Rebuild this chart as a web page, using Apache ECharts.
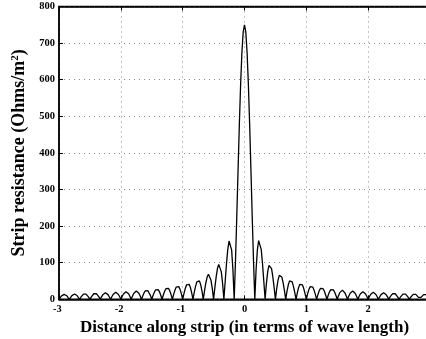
<!DOCTYPE html>
<html>
<head>
<meta charset="utf-8">
<script src="https://cdn.jsdelivr.net/npm/echarts@6/dist/echarts.min.js"></script>
<style>html,body{margin:0;padding:0;background:#fff}#c{width:426px;height:339px}</style>
</head>
<body>
<div id="c"></div>
<script>
// Distance along strip (wave lengths)
const distance = [-3,
-2.9792,-2.9583,-2.9375,-2.9167,-2.8958,-2.875,-2.8542,-2.8333,
-2.8125,-2.7917,-2.7708,-2.75,-2.7292,-2.7083,-2.6875,-2.6667,
-2.6458,-2.625,-2.6042,-2.5833,-2.5625,-2.5417,-2.5208,-2.5,
-2.4792,-2.4583,-2.4375,-2.4167,-2.3958,-2.375,-2.3542,-2.3333,
-2.3125,-2.2917,-2.2708,-2.25,-2.2292,-2.2083,-2.1875,-2.1667,
-2.1458,-2.125,-2.1042,-2.0833,-2.0625,-2.0417,-2.0208,-2,
-1.9792,-1.9583,-1.9375,-1.9167,-1.8958,-1.875,-1.8542,-1.8333,
-1.8125,-1.7917,-1.7708,-1.75,-1.7292,-1.7083,-1.6875,-1.6667,
-1.6458,-1.625,-1.6042,-1.5833,-1.5625,-1.5417,-1.5208,-1.5,
-1.4792,-1.4583,-1.4375,-1.4167,-1.3958,-1.375,-1.3542,-1.3333,
-1.3125,-1.2917,-1.2708,-1.25,-1.2292,-1.2083,-1.1875,-1.1667,
-1.1458,-1.125,-1.1042,-1.0833,-1.0625,-1.0417,-1.0208,-1,
-0.9792,-0.9583,-0.9375,-0.9167,-0.8958,-0.875,-0.8542,-0.8333,
-0.8125,-0.7917,-0.7708,-0.75,-0.7292,-0.7083,-0.6875,-0.6667,
-0.6458,-0.625,-0.6042,-0.5833,-0.5625,-0.5417,-0.5208,-0.5,
-0.4792,-0.4583,-0.4375,-0.4167,-0.3958,-0.375,-0.3542,-0.3333,
-0.3125,-0.2917,-0.2708,-0.25,-0.2292,-0.2083,-0.1875,-0.1667,
-0.1458,-0.125,-0.1042,-0.0833,-0.0625,-0.0417,-0.0208,0,
0.0208,0.0417,0.0625,0.0833,0.1042,0.125,0.1458,0.1667,
0.1875,0.2083,0.2292,0.25,0.2708,0.2917,0.3125,0.3333,
0.3542,0.375,0.3958,0.4167,0.4375,0.4583,0.4792,0.5,
0.5208,0.5417,0.5625,0.5833,0.6042,0.625,0.6458,0.6667,
0.6875,0.7083,0.7292,0.75,0.7708,0.7917,0.8125,0.8333,
0.8542,0.875,0.8958,0.9167,0.9375,0.9583,0.9792,1,
1.0208,1.0417,1.0625,1.0833,1.1042,1.125,1.1458,1.1667,
1.1875,1.2083,1.2292,1.25,1.2708,1.2917,1.3125,1.3333,
1.3542,1.375,1.3958,1.4167,1.4375,1.4583,1.4792,1.5,
1.5208,1.5417,1.5625,1.5833,1.6042,1.625,1.6458,1.6667,
1.6875,1.7083,1.7292,1.75,1.7708,1.7917,1.8125,1.8333,
1.8542,1.875,1.8958,1.9167,1.9375,1.9583,1.9792,2,
2.0208,2.0417,2.0625,2.0833,2.1042,2.125,2.1458,2.1667,
2.1875,2.2083,2.2292,2.25,2.2708,2.2917,2.3125,2.3333,
2.3542,2.375,2.3958,2.4167,2.4375,2.4583,2.4792,2.5,
2.5208,2.5417,2.5625,2.5833,2.6042,2.625,2.6458,2.6667,
2.6875,2.7083,2.7292,2.75,2.7708,2.7917,2.8125,2.8333,
2.8542,2.875,2.8958,2.9167,2.9375,2.9583,2.9792,3];

// Strip resistance (Ohms/m^2)
const resistance = [0,
5.1,9.5,12.5,13.6,12.7,9.8,5.3,0,
5.4,10.1,13.3,14.5,13.5,10.4,5.7,0,
5.8,10.7,14.1,15.4,14.3,11.1,6.0,0,
6.1,11.4,15.1,16.5,15.3,11.8,6.5,0,
6.6,12.3,16.2,17.7,16.5,12.7,7.0,0,
7.1,13.2,17.5,19.1,17.8,13.8,7.5,0,
7.7,14.4,19.0,20.8,19.4,15.0,8.2,0,
8.4,15.7,20.8,22.7,21.3,16.5,9.0,0,
9.3,17.3,22.9,25.1,23.5,18.3,10.0,0,
10.3,19.3,25.6,28.1,26.3,20.5,11.2,0,
11.6,21.8,28.9,31.8,29.9,23.3,12.8,0,
13.3,25.0,33.3,36.7,34.6,27.0,14.9,0,
15.6,29.4,39.2,43.4,41.0,32.2,17.8,0,
18.7,35.5,47.7,53.1,50.4,39.7,22.1,0,
23.6,45.0,60.8,68.2,65.4,51.9,29.2,0,
31.8,61.4,84.0,95.5,92.9,75.0,43.0,0,
48.7,96.5,135.7,159.2,160.4,135.0,81.2,0,
104.4,225.1,352.9,477.5,588.2,675.2,731.0,750,
731.0,675.2,588.2,477.5,352.9,225.1,104.4,0,
81.2,135.0,160.4,159.2,135.7,96.5,48.7,0,
43.0,75.0,92.9,95.5,84.0,61.4,31.8,0,
29.2,51.9,65.4,68.2,60.8,45.0,23.6,0,
22.1,39.7,50.4,53.1,47.7,35.5,18.7,0,
17.8,32.2,41.0,43.4,39.2,29.4,15.6,0,
14.9,27.0,34.6,36.7,33.3,25.0,13.3,0,
12.8,23.3,29.9,31.8,28.9,21.8,11.6,0,
11.2,20.5,26.3,28.1,25.6,19.3,10.3,0,
10.0,18.3,23.5,25.1,22.9,17.3,9.3,0,
9.0,16.5,21.3,22.7,20.8,15.7,8.4,0,
8.2,15.0,19.4,20.8,19.0,14.4,7.7,0,
7.5,13.8,17.8,19.1,17.5,13.2,7.1,0,
7.0,12.7,16.5,17.7,16.2,12.3,6.6,0,
6.5,11.8,15.3,16.5,15.1,11.4,6.1,0,
6.0,11.1,14.3,15.4,14.1,10.7,5.8,0,
5.7,10.4,13.5,14.5,13.3,10.1,5.4,0,
5.3,9.8,12.7,13.6,12.5,9.5,5.1,0];

const xTicks = [-3, -2, -1, 0, 1, 2, 3];
const yTicks = [0, 100, 200, 300, 400, 500, 600, 700, 800];

const xTitle = 'Distance along strip (in terms of wave length)';
const yTitle = 'Strip resistance (Ohms/m{s|2})';

const FONT = 'Liberation Serif';
const points = distance.map((d, i) => [d, resistance[i]]);

const chart = echarts.init(document.getElementById('c'), null, {renderer: 'canvas'});
const dotted = {show: true, lineStyle: {color: '#888', width: 1, type: [1, 4]}};
const labelStyle = {color: '#000', fontFamily: FONT, fontWeight: 'bold', fontSize: 10.5};

chart.setOption({
  animation: false,
  backgroundColor: '#fff',
  grid: {left: 59, right: -4, top: 6.5, bottom: 39.7, show: true, borderColor: '#000', borderWidth: 1.5,
    outerBoundsMode: 'none', containLabel: false},
  xAxis: [{
    type: 'value', min: xTicks[0], max: xTicks[xTicks.length - 1], interval: 1, position: 'bottom',
    axisLine: {show: true, onZero: false, lineStyle: {color: '#000', width: 1.5}},
    axisTick: {show: true, inside: true, length: 4, lineStyle: {color: '#000'}},
    axisLabel: Object.assign({}, labelStyle, {
      margin: 4,
      formatter: v => v < 0 ? v + '{h|-}' : String(v),
      rich: {h: {color: 'rgba(0,0,0,0)', fontFamily: FONT, fontWeight: 'bold', fontSize: 10.5}}
    }),
    splitLine: dotted,
    name: xTitle, nameLocation: 'middle', nameGap: 15,
    nameTextStyle: {color: '#000', fontFamily: FONT, fontWeight: 'bold', fontSize: 17}
  }, {
    type: 'value', min: xTicks[0], max: xTicks[xTicks.length - 1], interval: 1, position: 'top',
    axisLine: {show: true, onZero: false, lineStyle: {color: '#000', width: 1.5}},
    axisTick: {show: true, inside: true, length: 4, lineStyle: {color: '#000'}},
    axisLabel: {show: false}, splitLine: {show: false}
  }],
  yAxis: [{
    type: 'value', min: yTicks[0], max: yTicks[yTicks.length - 1], interval: 100,
    axisLine: {show: true, onZero: false, lineStyle: {color: '#000', width: 1.5}},
    axisTick: {show: true, inside: true, length: 4, lineStyle: {color: '#000'}},
    axisLabel: Object.assign({}, labelStyle, {margin: 4}),
    splitLine: dotted,
    name: yTitle, nameLocation: 'middle', nameGap: 22,
    nameTextStyle: {color: '#000', fontFamily: FONT, fontWeight: 'bold', fontSize: 18,
      rich: {s: {fontFamily: FONT, fontWeight: 'bold', fontSize: 11, color: '#000', padding: [0, 0, 9, 0]}}}
  }],
  series: [{
    type: 'line', data: points, showSymbol: false, symbol: 'none', clip: true,
    lineStyle: {color: '#000', width: 1.3}
  }]
});
</script>
</body>
</html>
